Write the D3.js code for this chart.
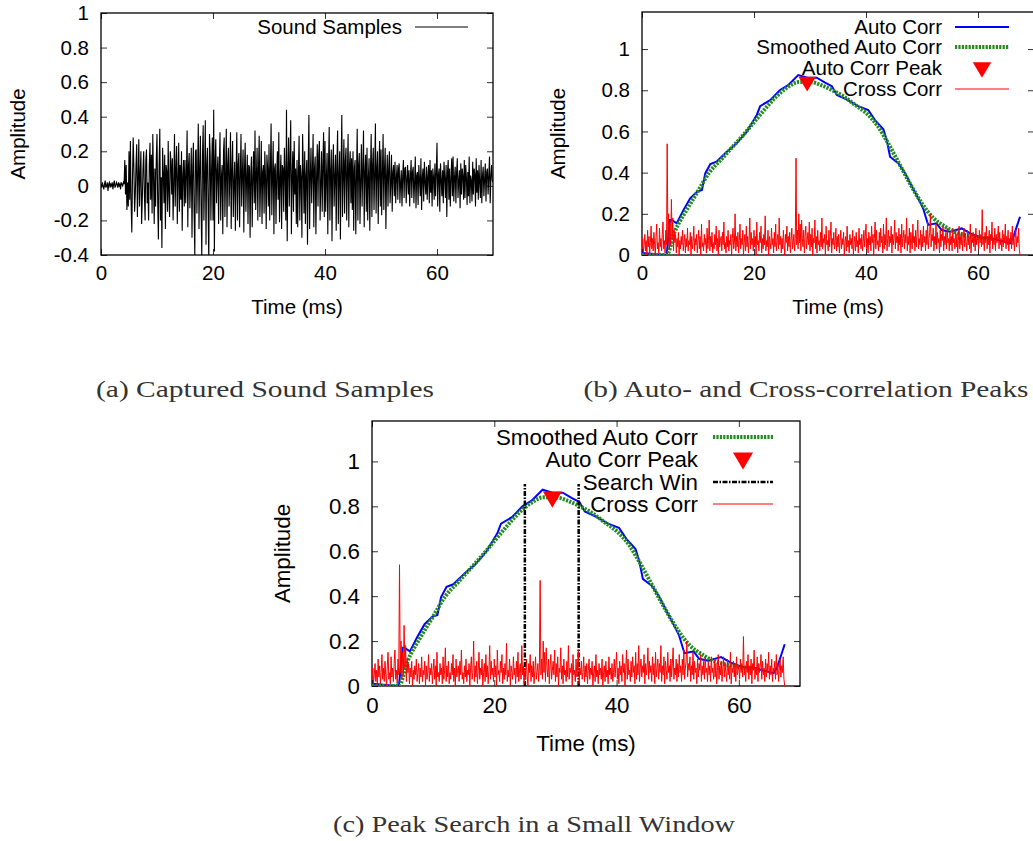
<!DOCTYPE html>
<meta charset="utf-8">
<style>
body { margin: 0; background: #fff; }
svg { display: block; font-family: "Liberation Sans", Arial, sans-serif; }
.cap { font-family: "Liberation Serif", "DejaVu Serif", serif; }
</style>
<script src="https://d3js.org/d3.v7.min.js"></script>
<div id="chart"></div>
<script>

// ---- data ----
const xTicks = [0, 20, 40, 60];
const yTicksA = [-0.4, -0.2, 0, 0.2, 0.4, 0.6, 0.8, 1];
const yTicksB = [0, 0.2, 0.4, 0.6, 0.8, 1];

// sound samples, one value every 0.125 ms
const soundStep = 0.125;
const sound = [
  0.01,-0.01,0.02,0.0,-0.02,0.01,0.03,-0.01,0.0,0.02,-0.03,0.01,0.02,-0.01,0.01,0.0,0.02,-0.02,0.01,0.03,
  -0.01,0.0,0.02,0.01,-0.01,0.02,0.0,0.01,-0.02,0.02,0.01,0.0,0.02,0.01,0.15,-0.05,0.12,-0.14,0.02,-0.12,
  0.2,-0.08,0.26,-0.1,-0.27,0.05,0.28,0.1,-0.15,-0.05,0.12,0.24,-0.18,0.04,0.27,-0.12,0.06,0.2,-0.22,-0.08,
  0.1,0.2,-0.05,-0.2,0.15,0.21,-0.1,0.02,-0.2,0.12,0.25,-0.08,0.18,-0.16,0.3,0.05,-0.22,0.1,-0.12,0.16,
  0.3,-0.1,-0.31,0.12,0.33,-0.2,0.05,-0.36,0.22,0.08,-0.1,0.18,-0.25,0.12,0.08,-0.15,0.26,-0.05,-0.18,0.2,
  0.14,-0.05,0.16,-0.2,0.02,0.3,-0.12,0.1,0.23,-0.22,0.04,0.25,-0.15,0.12,-0.08,0.2,-0.26,0.06,0.15,-0.12,
  0.15,-0.1,0.06,0.32,-0.24,0.12,0.19,-0.13,0.05,0.22,-0.3,0.1,0.25,-0.15,-0.4,0.2,0.21,-0.16,0.08,0.36,
  -0.25,0.1,0.29,-0.12,-0.42,0.18,0.35,-0.2,0.05,0.38,-0.34,0.12,0.22,-0.1,-0.45,0.3,0.18,-0.2,0.1,0.28,
  -0.2,0.44,-0.38,0.15,0.27,-0.1,0.08,0.17,-0.22,0.1,0.31,-0.2,0.05,0.12,-0.28,0.2,0.28,-0.18,0.06,0.33,
  -0.24,0.12,0.22,-0.12,0.05,0.31,-0.25,0.1,0.26,-0.18,0.02,0.14,-0.26,0.08,0.31,-0.2,0.12,0.19,-0.24,0.06,
  0.3,-0.12,0.08,0.21,-0.27,0.1,0.25,-0.15,0.04,0.18,-0.22,0.12,0.11,-0.3,0.08,0.17,-0.24,0.05,0.2,-0.1,
  0.32,-0.14,0.06,0.22,-0.2,0.1,0.29,-0.18,0.02,0.26,-0.22,0.08,0.12,-0.16,0.2,0.05,-0.25,0.18,0.1,-0.12,
  0.24,-0.2,0.1,0.36,-0.17,0.05,0.26,-0.28,0.1,0.13,-0.22,0.06,0.2,-0.08,0.31,-0.21,0.04,0.18,-0.25,0.12,
  0.1,-0.15,0.22,0.06,-0.2,0.44,-0.32,0.08,0.28,-0.12,0.15,0.38,-0.28,0.05,0.2,-0.15,0.26,-0.05,0.1,-0.22,
  0.15,-0.24,0.08,0.29,-0.2,0.12,0.05,-0.3,0.3,0.1,-0.16,0.2,-0.22,0.06,0.15,-0.34,0.12,0.41,-0.25,0.05,
  0.22,-0.1,0.08,0.3,-0.24,0.1,0.17,-0.28,0.06,0.24,-0.12,0.18,0.26,-0.2,0.02,0.2,-0.15,0.12,0.31,-0.18,
  0.26,-0.15,0.05,0.19,-0.28,0.12,0.34,-0.2,0.08,0.21,-0.32,0.1,0.24,-0.12,0.05,0.18,-0.26,0.12,0.32,-0.22,
  0.06,0.2,-0.31,0.1,0.41,-0.18,0.05,0.27,-0.16,0.14,0.22,-0.2,0.08,0.3,-0.24,0.12,0.2,-0.1,0.16,-0.14,
  0.2,-0.26,0.1,0.15,-0.28,0.06,0.33,-0.2,0.12,0.19,-0.22,0.04,0.24,-0.12,0.1,0.32,-0.24,0.08,0.18,-0.15,
  0.22,-0.2,0.05,0.16,-0.26,0.1,0.3,-0.18,0.12,0.22,-0.14,0.06,0.36,-0.16,0.1,0.2,-0.22,0.08,0.26,-0.12,
  0.21,-0.17,0.08,0.3,-0.14,0.1,0.22,-0.25,0.06,0.18,-0.12,0.1,0.2,-0.1,0.02,0.18,-0.15,0.08,0.12,-0.06,
  0.14,-0.1,0.05,0.12,-0.08,0.1,0.13,-0.1,0.02,0.09,-0.12,0.06,0.15,-0.07,0.1,0.11,-0.1,0.04,0.12,-0.05,
  0.09,-0.12,0.05,0.15,-0.07,0.08,0.11,-0.1,0.02,0.17,-0.13,0.06,0.08,-0.11,0.12,0.04,-0.06,0.16,-0.14,0.05,
  0.1,-0.09,0.14,0.02,-0.05,0.11,-0.08,0.06,0.12,-0.1,0.15,-0.04,0.09,-0.12,0.1,0.05,-0.08,0.13,-0.06,0.08,
  0.25,-0.12,0.06,0.1,-0.15,0.13,0.04,-0.06,0.09,-0.1,0.14,0.05,-0.07,0.12,-0.18,0.08,0.15,-0.08,0.1,-0.12,
  0.04,0.16,-0.06,0.17,-0.09,0.05,0.11,-0.1,0.08,0.16,-0.07,0.03,0.09,-0.13,0.13,-0.05,0.1,0.06,-0.08,0.15,
  -0.07,0.12,0.05,-0.11,0.08,-0.06,0.17,-0.1,0.06,0.03,-0.09,0.14,-0.05,0.1,0.07,-0.12,0.16,-0.04,0.09,-0.08,
  0.12,0.02,-0.07,0.15,-0.1,0.06,0.11,-0.06,0.04,0.13,-0.09,0.08,0.1,-0.05,0.06,0.17,-0.1,0.05,0.12,0.03,
  0.02
];

// cross correlation, one value every 0.125 ms
const crossStep = 0.125;
const crossCorr = [
  0.03,0.08,0.01,0.05,0.1,0.02,0.07,0.0,0.12,0.04,0.09,0.01,0.06,0.14,0.03,0.08,0.02,0.11,0.05,0.0,
  0.09,0.15,0.03,0.06,0.01,0.13,0.04,0.08,0.02,0.1,0.16,0.03,0.07,0.01,0.12,0.05,0.54,0.06,0.2,0.03,
  0.15,0.05,0.27,0.08,0.18,0.02,0.12,0.06,0.1,0.01,0.08,0.04,0.11,0.0,0.07,0.03,0.09,0.05,0.12,0.02,
  0.06,0.1,0.01,0.08,0.04,0.13,0.02,0.07,0.05,0.11,0.0,0.09,0.03,0.06,0.14,0.02,0.08,0.05,0.1,0.01,
  0.07,0.12,0.03,0.09,0.0,0.15,0.04,0.06,0.02,0.1,0.05,0.08,0.01,0.13,0.03,0.07,0.17,0.02,0.09,0.04,
  0.11,0.01,0.06,0.03,0.1,0.05,0.14,0.02,0.08,0.0,0.12,0.04,0.07,0.09,0.02,0.11,0.05,0.16,0.03,0.06,
  0.01,0.09,0.04,0.12,0.02,0.07,0.05,0.1,0.0,0.08,0.13,0.03,0.06,0.2,0.02,0.09,0.04,0.11,0.01,0.07,
  0.15,0.03,0.08,0.05,0.12,0.0,0.06,0.1,0.02,0.14,0.04,0.09,0.01,0.07,0.18,0.03,0.11,0.05,0.08,0.02,
  0.12,0.04,0.09,0.0,0.16,0.05,0.07,0.02,0.11,0.06,0.14,0.01,0.08,0.03,0.1,0.05,0.19,0.02,0.07,0.04,
  0.12,0.0,0.09,0.06,0.03,0.13,0.05,0.08,0.01,0.11,0.04,0.15,0.02,0.07,0.1,0.03,0.18,0.05,0.09,0.01,
  0.08,0.03,0.12,0.05,0.0,0.1,0.06,0.14,0.02,0.09,0.04,0.11,0.01,0.07,0.13,0.03,0.06,0.1,0.02,0.08,
  0.47,0.05,0.12,0.03,0.2,0.06,0.15,0.02,0.17,0.08,0.04,0.12,0.01,0.09,0.14,0.03,0.07,0.11,0.05,0.16,
  0.02,0.1,0.04,0.13,0.0,0.08,0.06,0.17,0.03,0.09,0.01,0.12,0.05,0.07,0.02,0.11,0.04,0.18,0.03,0.08,
  0.06,0.1,0.0,0.14,0.05,0.07,0.02,0.12,0.04,0.09,0.16,0.01,0.08,0.05,0.11,0.03,0.06,0.13,0.02,0.09,
  0.04,0.1,0.01,0.07,0.12,0.03,0.08,0.05,0.11,0.0,0.06,0.09,0.02,0.14,0.04,0.07,0.01,0.1,0.05,0.08,
  0.03,0.12,0.0,0.06,0.09,0.02,0.11,0.04,0.07,0.01,0.13,0.05,0.08,0.03,0.1,0.02,0.06,0.12,0.04,0.09,
  0.15,0.03,0.08,0.01,0.11,0.05,0.09,0.02,0.14,0.06,0.1,0.0,0.08,0.16,0.03,0.12,0.05,0.07,0.02,0.11,
  0.04,0.13,0.06,0.09,0.01,0.15,0.03,0.1,0.05,0.18,0.02,0.08,0.12,0.04,0.09,0.06,0.14,0.01,0.1,0.05,
  0.08,0.17,0.03,0.11,0.06,0.09,0.02,0.13,0.05,0.1,0.01,0.15,0.04,0.08,0.12,0.03,0.1,0.06,0.18,0.02,
  0.09,0.05,0.13,0.01,0.11,0.07,0.03,0.15,0.06,0.09,0.02,0.12,0.04,0.1,0.17,0.03,0.08,0.05,0.12,0.02,
  0.1,0.04,0.14,0.06,0.09,0.02,0.12,0.05,0.16,0.03,0.08,0.11,0.2,0.04,0.1,0.07,0.13,0.02,0.09,0.05,
  0.15,0.03,0.11,0.06,0.08,0.01,0.12,0.04,0.1,0.07,0.14,0.02,0.09,0.05,0.11,0.03,0.13,0.06,0.08,0.02,
  0.11,0.05,0.09,0.02,0.13,0.06,0.08,0.03,0.12,0.04,0.1,0.01,0.07,0.14,0.03,0.09,0.05,0.11,0.02,0.08,
  0.13,0.04,0.1,0.06,0.02,0.12,0.05,0.09,0.03,0.15,0.01,0.08,0.06,0.11,0.04,0.1,0.02,0.13,0.05,0.07,
  0.09,0.03,0.12,0.06,0.1,0.04,0.22,0.05,0.08,0.02,0.11,0.06,0.14,0.03,0.09,0.05,0.12,0.01,0.1,0.07,
  0.16,0.03,0.08,0.05,0.13,0.02,0.1,0.06,0.09,0.14,0.03,0.11,0.05,0.08,0.02,0.12,0.04,0.1,0.06,0.15,
  0.03,0.09,0.05,0.12,0.02,0.08,0.06,0.11,0.03,0.14,0.05,0.1,0.02,0.08,0.12,0.04,0.09,0.06,0.13,0.03,
  0.0
];

// auto correlation
const autoT = [0, 4.4, 5.0, 5.3, 6.2, 7.4, 8.6, 9.8, 10.7, 11.3, 12.2, 13.3, 15.1, 16.9, 18.7, 20.5, 21.1, 22.9, 24.6, 26.1,
  27.9, 29.4, 31.2, 32.7, 33.9, 34.8, 36.5, 38.6, 40.4, 41.6, 43.1, 43.7, 44.3, 45.8, 47.0, 48.2, 49.0, 50.2, 51.1, 52.6,
  53.5, 55.0, 57.1, 58.6, 60.4, 62.5, 64.5, 65.7, 66.3, 67.5];
const autoV = [0.01, 0.0, 0.17, 0.17, 0.154, 0.218, 0.275, 0.307, 0.316, 0.396, 0.442, 0.453, 0.50, 0.542, 0.599, 0.68, 0.723, 0.752, 0.80, 0.825,
  0.874, 0.862, 0.861, 0.837, 0.82, 0.777, 0.756, 0.723, 0.704, 0.655, 0.61, 0.558, 0.477, 0.445, 0.396, 0.332, 0.291, 0.227, 0.146, 0.154,
  0.121, 0.113, 0.129, 0.105, 0.086, 0.081, 0.065, 0.057, 0.086, 0.186];

// smoothed auto correlation
const smoothT = [0, 4.4, 5.8, 8, 10, 12, 14, 16, 18, 20, 22, 24, 26, 28, 30, 32, 34, 36, 38, 40, 42, 44, 46, 48, 50, 52, 54, 56, 58, 60, 62.5];
const smoothV = [0, 0, 0.11, 0.22, 0.31, 0.40, 0.46, 0.52, 0.58, 0.645, 0.71, 0.77, 0.815, 0.84, 0.84, 0.825, 0.80, 0.77, 0.73, 0.69, 0.63, 0.54, 0.44, 0.34, 0.25, 0.18, 0.14, 0.11, 0.095, 0.085, 0.08];

const peakT = [29.5];
const peakV = [0.83];
const searchWin = [25.0, 33.8];
const searchTop = 0.9;

const captions = ["(a) Captured Sound Samples", "(b) Auto- and Cross-correlation Peaks", "(c) Peak Search in a Small Window"];

// ---- drawing ----
const svg = d3.select("#chart").append("svg")
  .attr("width", 1033).attr("height", 841);
svg.append("rect").attr("width", 1033).attr("height", 841).attr("fill", "#fff");

const fmt = d => String(+d.toFixed(1));

function panel(id, xr, yr, yDomain, yTicks, fs, labelX) {
  const x = d3.scaleLinear().domain([0, 70]).range(xr);
  const y = d3.scaleLinear().domain(yDomain).range(yr);
  const g = svg.append("g");

  g.append("clipPath").attr("id", id)
    .append("rect").attr("x", xr[0]).attr("y", yr[1])
    .attr("width", xr[1] - xr[0]).attr("height", yr[0] - yr[1]);

  const style = a => a.attr("font-size", fs).attr("font-family", null)
    .call(s => s.select(".domain").remove())
    .call(s => s.selectAll("line").attr("stroke", "#333"));

  g.append("g").attr("transform", `translate(0,${yr[0]})`)
    .call(d3.axisBottom(x).tickValues(xTicks).tickSize(-6).tickPadding(fs * 0.5).tickFormat(fmt)).call(style);
  g.append("g").attr("transform", `translate(0,${yr[1]})`)
    .call(d3.axisTop(x).tickValues(xTicks).tickSize(-6).tickFormat("")).call(style);
  g.append("g").attr("transform", `translate(${xr[0]},0)`)
    .call(d3.axisLeft(y).tickValues(yTicks).tickSize(-6).tickPadding(12).tickFormat(fmt)).call(style);
  g.append("g").attr("transform", `translate(${xr[1]},0)`)
    .call(d3.axisRight(y).tickValues(yTicks).tickSize(-6).tickFormat("")).call(style);

  g.append("rect").attr("x", xr[0]).attr("y", yr[1])
    .attr("width", xr[1] - xr[0]).attr("height", yr[0] - yr[1])
    .attr("fill", "none").attr("stroke", "#000").attr("stroke-width", 1.3);

  g.append("text").attr("x", (xr[0] + xr[1]) / 2).attr("y", yr[0] + fs * 2.9)
    .attr("text-anchor", "middle").attr("font-size", fs).text("Time (ms)");
  g.append("text").attr("transform", `translate(${labelX},${(yr[0] + yr[1]) / 2}) rotate(-90)`)
    .attr("text-anchor", "middle").attr("dy", "0.35em").attr("font-size", fs).text("Amplitude");

  const plot = g.append("g").attr("clip-path", `url(#${id})`);
  return {x, y, g, plot};
}

function tri(sel, cx, cy, w) {
  const h = w * 0.85;
  sel.append("path")
    .attr("d", `M${cx - w / 2},${cy - h / 2}L${cx + w / 2},${cy - h / 2}L${cx},${cy + h / 2}Z`)
    .attr("fill", "#ff0000");
}

function legend(g, rows, xText, x0, x1, fs) {
  rows.forEach(r => {
    g.append("text").attr("x", xText).attr("y", r.y).attr("dy", "0.35em")
      .attr("text-anchor", "end").attr("font-size", fs).text(r.label);
    if (r.kind === "tri") tri(g, (x0 + x1) / 2, r.y + 2, fs * 0.9);
    else g.append("line").attr("x1", x0).attr("x2", x1).attr("y1", r.y).attr("y2", r.y)
      .attr("stroke", r.color).attr("stroke-width", r.width)
      .attr("stroke-dasharray", r.dash || null);
  });
}

const styles = {
  auto: {color: "#0000ff", width: 2},
  smooth: {color: "#228b22", width: 4, dash: "2.2,1.2"},
  cross: {color: "#ff0000", width: 1},
  search: {color: "#000", width: 2.5, dash: "5,1.5,1.5,1.5"}
};

function corrPanel(p, withSearch, fs) {
  const {x, y, plot} = p;
  const autoLine = d3.line().x(i => x(autoT[i])).y(i => y(autoV[i]));
  plot.append("path").attr("d", autoLine(d3.range(autoT.length)))
    .attr("fill", "none").attr("stroke", styles.auto.color).attr("stroke-width", styles.auto.width);
  const smLine = d3.line().x(i => x(smoothT[i])).y(i => y(smoothV[i])).curve(d3.curveMonotoneX);
  plot.append("path").attr("d", smLine(d3.range(smoothT.length)))
    .attr("fill", "none").attr("stroke", styles.smooth.color).attr("stroke-width", styles.smooth.width)
    .attr("stroke-dasharray", styles.smooth.dash);
  peakT.forEach((t, i) => tri(plot, x(t), y(peakV[i]), fs * 0.85));
  if (withSearch) {
    searchWin.forEach(t => {
      plot.append("line").attr("x1", x(t)).attr("x2", x(t)).attr("y1", y(0)).attr("y2", y(searchTop))
        .attr("stroke", styles.search.color).attr("stroke-width", styles.search.width)
        .attr("stroke-dasharray", styles.search.dash);
    });
  }
  const crLine = d3.line().x((d, i) => x(i * crossStep)).y(d => y(d));
  plot.append("path").attr("d", crLine(crossCorr))
    .attr("fill", "none").attr("stroke", styles.cross.color).attr("stroke-width", styles.cross.width);
}

// (a)
const pa = panel("clipA", [101, 493], [255, 13], [-0.4, 1], yTicksA, 20.5, 18);
pa.plot.append("path")
  .attr("d", d3.line().x((d, i) => pa.x(i * soundStep)).y(d => pa.y(d))(sound))
  .attr("fill", "none").attr("stroke", "#000").attr("stroke-width", 1.1);
legend(pa.g, [{label: "Sound Samples", y: 27, color: "#000", width: 1.2}], 402, 415, 468, 20.5);

// (b)
const pb = panel("clipB", [642, 1034], [255, 12], [0, 1.18], yTicksB, 20.5, 558);
corrPanel(pb, false, 20.5);
legend(pb.g, [
  {label: "Auto Corr", y: 27, ...styles.auto},
  {label: "Smoothed Auto Corr", y: 47, ...styles.smooth},
  {label: "Auto Corr Peak", y: 68, kind: "tri"},
  {label: "Cross Corr", y: 89, ...styles.cross}
], 942, 955, 1009, 20.5);

// (c)
const pc = panel("clipC", [372, 800], [686, 421], [0, 1.18], yTicksB, 22.3, 282);
corrPanel(pc, true, 22.3);
legend(pc.g, [
  {label: "Smoothed Auto Corr", y: 437, ...styles.smooth},
  {label: "Auto Corr Peak", y: 459, kind: "tri"},
  {label: "Search Win", y: 482, ...styles.search},
  {label: "Cross Corr", y: 504, ...styles.cross}
], 698, 713, 773, 22.3);

// captions
const capPos = [[265, 397, 338], [806, 397, 445], [534, 832, 402]];
captions.forEach((c, i) => {
  svg.append("text").attr("class", "cap")
    .attr("x", capPos[i][0]).attr("y", capPos[i][1])
    .attr("text-anchor", "middle").attr("font-size", 23).attr("fill", "#333")
    .attr("textLength", capPos[i][2]).attr("lengthAdjust", "spacingAndGlyphs")
    .text(c);
});
</script>
